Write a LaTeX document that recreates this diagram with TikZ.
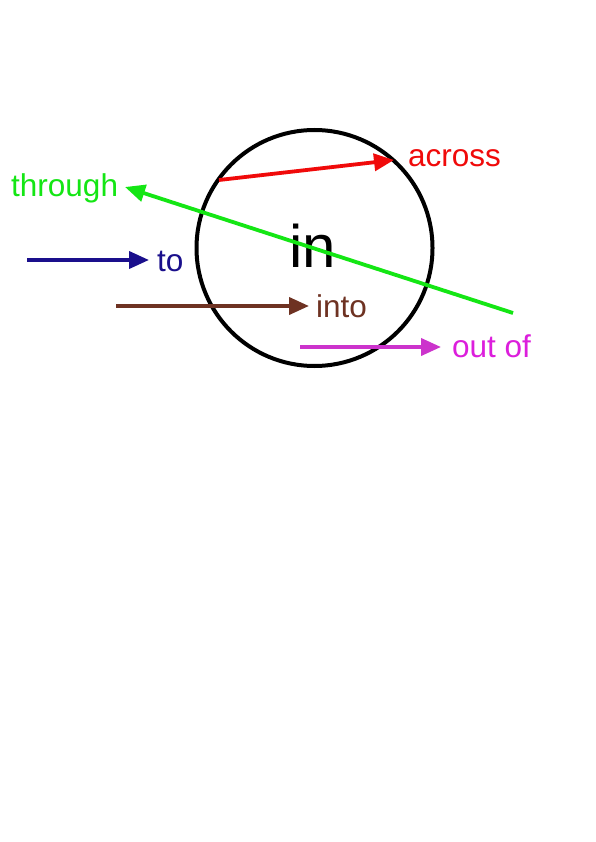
\documentclass[tikz,border=0pt]{standalone}
\usepackage{fontspec}
\setmainfont{Liberation Sans}
\usetikzlibrary{arrows.meta}
\definecolor{cgreen}{RGB}{20,230,20}
\definecolor{cred}{RGB}{240,10,10}
\definecolor{cblue}{RGB}{26,15,140}
\definecolor{cbrown}{RGB}{110,50,34}
\definecolor{cmag}{RGB}{204,51,204}
\definecolor{cmagtext}{RGB}{220,30,220}
\tikzset{
  arr/.style={line width=3.8pt,-{Triangle[length=20pt,width=17pt]}},
  lab/.style={inner sep=0pt,anchor=base west,font=\fontsize{31.5}{38}\selectfont},
}
\begin{document}
\begin{tikzpicture}[x=1pt,y=-1pt]
\useasboundingbox (0,0) rectangle (595,842);
\fill[white] (0,0) rectangle (595,842);
\node[circle,draw=black,line width=4pt,minimum size=236pt,inner sep=0pt] (circ) at (314.5,248) {};
\node[inner sep=0pt,anchor=base,font=\fontsize{60}{66}\selectfont] (in) at (312.5,267) {in};
% labels
\node[lab,text=cred] (across) at (408,167) {across};
\node[lab,text=cgreen] (through) at (11,197) {through};
\node[lab,text=cblue] (to) at (157,271) {to};
\node[lab,text=cbrown] (into) at (316,317) {into};
\node[lab,text=cmagtext] (outof) at (452,357) {out of};
% coordinates
\coordinate (a1) at (219,180);
\coordinate (a2) at (394,160);
\coordinate (g1) at (513,313);
\coordinate (g2) at (125,187);
\coordinate (b1) at (27,260);
\coordinate (b2) at (149,260);
\coordinate (r1) at (116,306);
\coordinate (r2) at (309,306);
\coordinate (m1) at (300,347);
\coordinate (m2) at (441,347);
\draw[arr,cred] (a1) -- (a2);
\draw[arr,cgreen] (g1) -- (g2);
\draw[arr,cblue] (b1) -- (b2);
\draw[arr,cbrown] (r1) -- (r2);
\draw[arr,cmag] (m1) -- (m2);
\end{tikzpicture}
\end{document}
